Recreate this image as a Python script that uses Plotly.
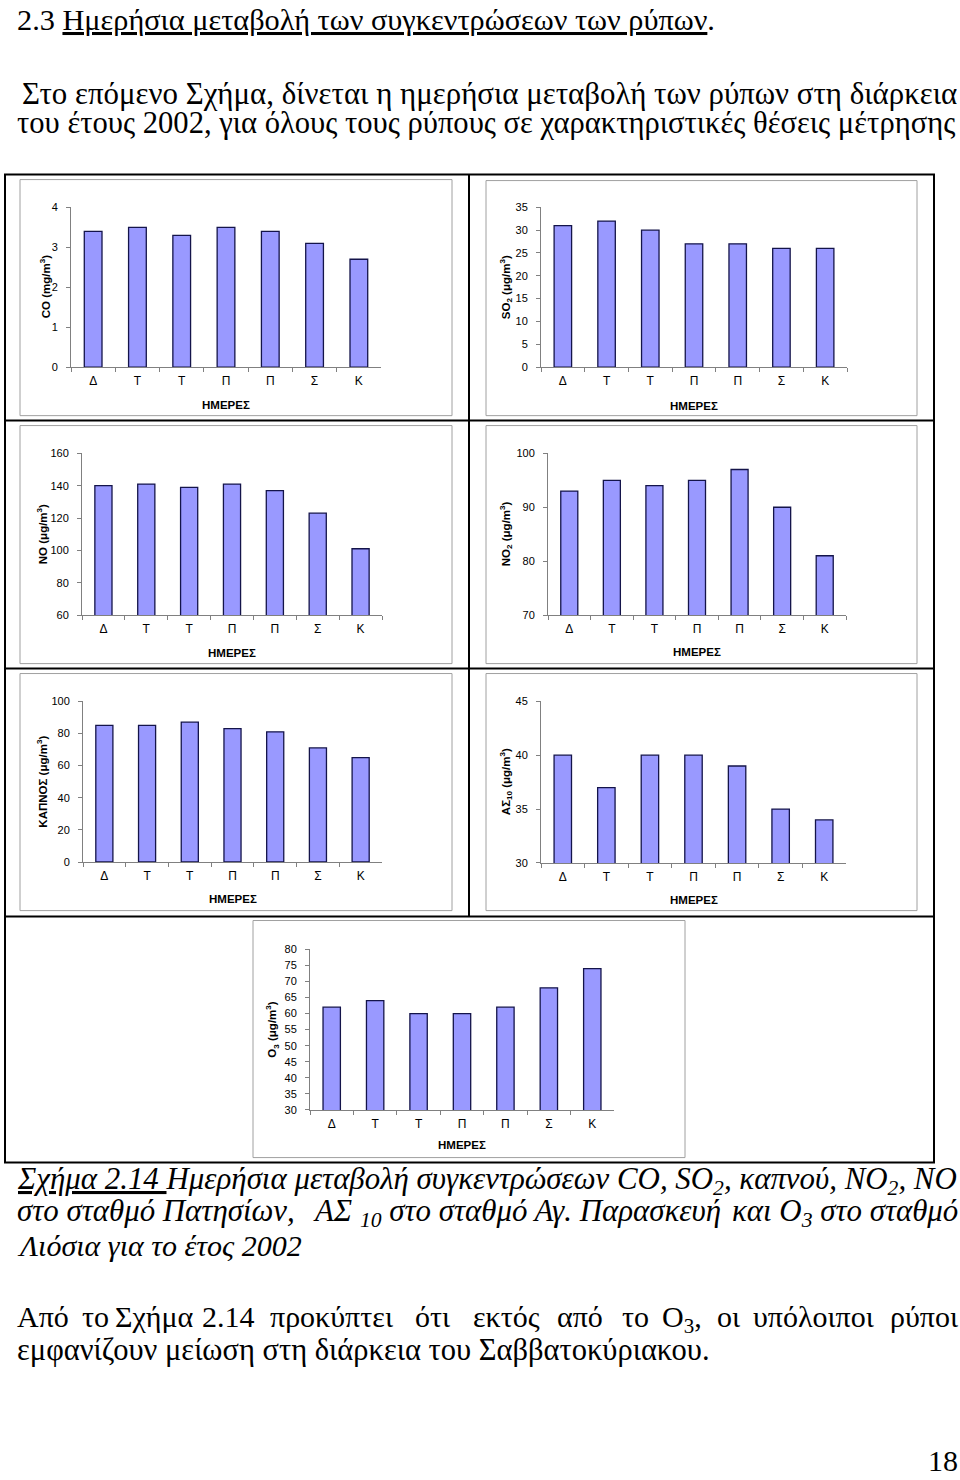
import plotly.graph_objects as go

# ---------------- data ----------------
days = ["Δευτέρα", "Τρίτη", "Τετάρτη", "Πέμπτη", "Παρασκευή", "Σάββατο", "Κυριακή"]
day_labels = ["Δ", "Τ", "Τ", "Π", "Π", "Σ", "Κ"]

co = [3.4, 3.5, 3.3, 3.5, 3.4, 3.1, 2.7]
so2 = [31, 32, 30, 27, 27, 26, 26]
no = [140, 141, 139, 141, 137, 123, 101]
no2 = [93, 95, 94, 95, 97, 90, 81]
smoke = [85, 85, 87, 83, 81, 71, 65]
pm10 = [40, 37, 40, 40, 39, 35, 34]
o3 = [62, 64, 60, 60, 62, 68, 74]

y_titles = [
    "CO (mg/m<sup>3</sup>)",
    "SO<sub>2</sub> (μg/m<sup>3</sup>)",
    "NO (μg/m<sup>3</sup>)",
    "NO<sub>2</sub> (μg/m<sup>3</sup>)",
    "ΚΑΠΝΟΣ (μg/m<sup>3</sup>)",
    "ΑΣ<sub>10</sub> (μg/m<sup>3</sup>)",
    "O<sub>3</sub> (μg/m<sup>3</sup>)",
]
x_title = "ΗΜΕΡΕΣ"
y_ranges = [[0, 4], [0, 35], [60, 160], [70, 100], [0, 100], [30, 45], [30, 80]]
y_dticks = [1, 5, 20, 10, 20, 5, 5]
series = [co, so2, no, no2, smoke, pm10, o3]

# ---------------- layout geometry (pixels) ----------------
W, H = 960, 1480
def fx(px):
    return px / W
def fy(py):
    return 1 - py / H

# plot areas: x0, x1, ytop, ybottom
plot_areas = [
    (71, 381, 203, 364),
    (541, 847, 203, 364),
    (82, 382, 451, 614),
    (548, 846, 451, 614),
    (83, 382, 701, 863),
    (541, 846, 701, 864),
    (310, 614, 951, 1113),
]
# chart boxes (gray)
boxes = [
    (20, 175, 452, 413),
    (486, 176, 917, 413),
    (20, 423, 452, 663),
    (486, 423, 917, 663),
    (20, 673, 452, 912),
    (486, 673, 917, 912),
    (253, 922, 685, 1161),
]
ytitle_x = [45, 506, 42, 506, 42, 506, 272]
xtitle_y = [402, 403, 652, 651, 900, 901, 1148]

BAR_FILL = "#9999FF"
BAR_LINE = "#14144a"
AXIS_GRAY = "#808080"
SANS = "Liberation Sans, Arial, sans-serif"
SERIF = "Liberation Serif"

fig = go.Figure()
layout = dict(
    width=W, height=H,
    margin=dict(l=0, r=0, t=0, b=0),
    paper_bgcolor="white", plot_bgcolor="white",
    showlegend=False,
    bargap=0.6,
    font=dict(family=SANS, color="black"),
)
annotations = []
shapes = []

for i, vals in enumerate(series):
    n = "" if i == 0 else str(i + 1)
    fig.add_trace(go.Bar(
        x=days, y=vals,
        marker=dict(color=BAR_FILL, line=dict(color=BAR_LINE, width=1.3)),
        xaxis="x" + n, yaxis="y" + n,
    ))
    x0, x1, yt, yb = plot_areas[i]
    layout["xaxis" + n] = dict(
        domain=[fx(x0), fx(x1)], anchor="y" + n,
        type="category",
        tickmode="array", tickvals=days, ticktext=day_labels,
        tickson="boundaries", ticks="outside", ticklen=4, tickcolor=AXIS_GRAY,
        showline=True, linecolor=AXIS_GRAY, linewidth=1,
        showgrid=False, zeroline=False,
        tickfont=dict(family=SANS, size=12, color="black"),
        ticklabelstandoff=3,
        fixedrange=True,
    )
    layout["yaxis" + n] = dict(
        domain=[fy(yb), fy(yt)], anchor="x" + n,
        range=y_ranges[i], dtick=y_dticks[i], tick0=y_ranges[i][0],
        ticks="outside", ticklen=4, tickcolor=AXIS_GRAY,
        showline=True, linecolor=AXIS_GRAY, linewidth=1,
        showgrid=False, zeroline=False,
        tickfont=dict(family=SANS, size=11, color="black"),
        ticklabelstandoff=6,
        fixedrange=True,
    )
    # axis titles
    annotations.append(dict(
        text="<b>" + y_titles[i] + "</b>", textangle=-90,
        x=fx(ytitle_x[i]), y=fy((yt + yb) / 2), xref="paper", yref="paper",
        xanchor="center", yanchor="middle", showarrow=False,
        font=dict(family=SANS, size=11.5, color="black"),
    ))
    annotations.append(dict(
        text="<b>" + x_title + "</b>",
        x=fx((x0 + x1) / 2), y=fy(xtitle_y[i]), xref="paper", yref="paper",
        xanchor="center", yanchor="middle", showarrow=False,
        font=dict(family=SANS, size=11.5, color="black"),
    ))
    bx0, by0, bx1, by1 = boxes[i]
    shapes.append(dict(type="rect", xref="paper", yref="paper",
                       x0=fx(bx0), x1=fx(bx1), y0=fy(by1), y1=fy(by0),
                       line=dict(color="#a0a0a0", width=1), layer="below"))

# table borders
def hline(py, px0, px1):
    shapes.append(dict(type="line", xref="paper", yref="paper",
                       x0=fx(px0), x1=fx(px1), y0=fy(py), y1=fy(py),
                       line=dict(color="black", width=2)))
def vline(px, py0, py1):
    shapes.append(dict(type="line", xref="paper", yref="paper",
                       x0=fx(px), x1=fx(px), y0=fy(py0), y1=fy(py1),
                       line=dict(color="black", width=2)))

for py in (170, 418, 668, 918, 1166):
    hline(py, 4, 935)
vline(5, 170, 1166)
vline(934, 170, 1166)
vline(469, 170, 918)

# page text: placed by baseline (yanchor top -> box top = baseline - ascent - pad)
def text(t, px, baseline, anchor="left", italic=False, size=30):
    if anchor == "left":
        px = px - 2
    elif anchor == "right":
        px = px + 2
    asc = 0.891 * size + 2
    annotations.append(dict(
        text=t, x=fx(px), y=fy(baseline - asc), xref="paper", yref="paper",
        xanchor=anchor, yanchor="top", showarrow=False,
        font=dict(family=SERIF, size=size, color="black",
                  style="italic" if italic else "normal"),
    ))

text("2.3 <u>Ημερήσια μεταβολή των συγκεντρώσεων των ρύπων</u>.", 17, 24, size=30.3)
text("Στο επόμενο Σχήμα, δίνεται η ημερήσια μεταβολή των ρύπων στη διάρκεια",
     22, 98.5, size=30.9)
text("του έτους 2002, για όλους τους ρύπους σε χαρακτηριστικές θέσεις μέτρησης",
     17, 128.5, size=30.6)

text("<u>Σχήμα 2.14 </u>Ημερήσια μεταβολή συγκεντρώσεων CO, SO<sub>2</sub>, καπνού, NO<sub>2</sub>, NO",
     17, 1192, italic=True, size=30.9)
text("στο σταθμό Πατησίων,", 17, 1224, italic=True, size=30.9)
text("ΑΣ <sub>10</sub> στο σταθμό Αγ. Παρασκευή", 517, 1224, anchor="center",
     italic=True, size=30.9)
text("και O<sub>3</sub> στο σταθμό", 958, 1224, anchor="right", italic=True, size=30.9)
text("Λιόσια για το έτος 2002", 17, 1260, italic=True)

para_words = ["Από", "το", "Σχήμα", "2.14", "προκύπτει", "ότι", "εκτός", "από",
              "το", "O<sub>3</sub>,", "οι", "υπόλοιποι"]
para_x = [17, 82, 115, 202, 270, 415, 473, 557, 622, 662, 717, 753]
for w, px in zip(para_words, para_x):
    text(w, px, 1331.5)
text("ρύποι", 958, 1331.5, anchor="right")
text("εμφανίζουν μείωση στη διάρκεια του Σαββατοκύριακου.", 17, 1365, size=30.5)
text("18", 958, 1476.5, anchor="right")

layout["annotations"] = annotations
layout["shapes"] = shapes
fig.update_layout(**layout)
fig.write_html(
    "out.html",
    config={"displayModeBar": False},
    post_script="document.body.style.margin='0';document.body.style.padding='0';"
                "document.body.style.overflow='hidden';",
)
